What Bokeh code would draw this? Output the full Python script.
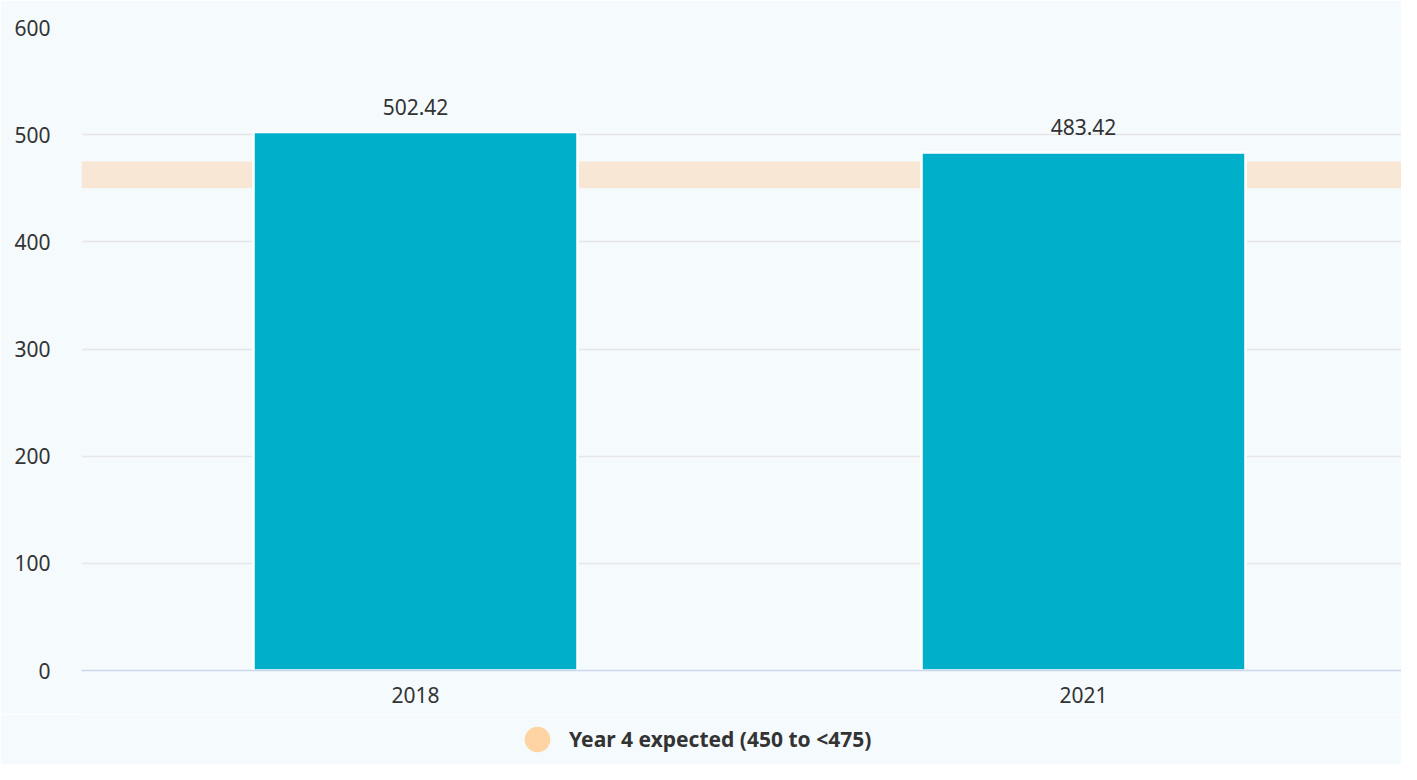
from bokeh.plotting import figure
from bokeh.layouts import column
from bokeh.models import (Range1d, FixedTicker, BoxAnnotation, Legend, LegendItem,
                          ColumnDataSource)
from bokeh.core.properties import value
from bokeh.embed import file_html
from bokeh.resources import INLINE

# ---- data ----
categories = ["2018", "2021"]
scores = [502.42, 483.42]
score_labels = ["502.42", "483.42"]
band_low = 450
band_high = 475
band_label = "Year 4 expected (450 to <475)"
y_ticks = [0, 100, 200, 300, 400, 500, 600]

BG = "#f5fafd"
BAR = "#00afca"
BAND = "#f8e7d4"
MARK = "#fdd4a2"
TXT = "#333333"
FONT = "Noto Sans"

positions = list(range(len(categories)))
src = ColumnDataSource(dict(x=positions, y=scores, lab=score_labels))

W = 1401
H_MAIN, H_LEG = 714, 50
left_b, top_b = 81, 27
frame_w = W - left_b
cat_px = 668

p = figure(width=W, height=H_MAIN, output_backend="svg", toolbar_location=None,
           x_range=Range1d(-0.5, -0.5 + frame_w / cat_px), y_range=Range1d(0, 600),
           min_border_left=left_b, min_border_right=0, min_border_top=top_b,
           min_border_bottom=44)
p.background_fill_color = BG
p.border_fill_color = BG
p.outline_line_color = None

band = BoxAnnotation(bottom=band_low, top=band_high, fill_color=BAND, fill_alpha=1,
                     line_color=None, level="underlay")
p.add_layout(band)

p.vbar(x="x", top="y", width=0.485, source=src, fill_color=BAR,
       line_color="white", line_width=2.5)

p.text(x="x", y="y", text="lab", source=src, y_offset=-25,
       text_align="center", text_baseline="middle",
       text_font=value(FONT), text_font_size="21px", text_color=TXT)

# axes
p.yaxis.ticker = FixedTicker(ticks=y_ticks)
p.yaxis.axis_line_color = None
p.yaxis.major_tick_line_color = None
p.yaxis.minor_tick_line_color = None
p.yaxis.major_tick_out = 0
p.yaxis.major_tick_in = 0
p.yaxis.major_label_standoff = 31
p.yaxis.major_label_text_font = FONT
p.yaxis.major_label_text_font_size = "21px"
p.yaxis.major_label_text_color = TXT

p.xaxis.ticker = FixedTicker(ticks=positions)
p.xaxis.major_label_overrides = {i: c for i, c in zip(positions, categories)}
p.xaxis.axis_line_color = "#ccd6eb"
p.xaxis.axis_line_width = 1.5
p.xaxis.major_tick_line_color = None
p.xaxis.minor_tick_line_color = None
p.xaxis.major_tick_out = 0
p.xaxis.major_tick_in = 0
p.xaxis.major_label_standoff = 16
p.xaxis.major_label_text_font = FONT
p.xaxis.major_label_text_font_size = "21px"
p.xaxis.major_label_text_color = TXT

p.xgrid.grid_line_color = None
p.ygrid.ticker = FixedTicker(ticks=y_ticks)
p.ygrid.grid_line_color = "#e6e6e6"
p.ygrid.grid_line_width = 1.5

# ---- legend strip ----
lg = figure(width=W, height=H_LEG, output_backend="svg", toolbar_location=None,
            x_axis_location=None, y_axis_location=None, min_border=0,
            x_range=Range1d(0, 1), y_range=Range1d(0, 1))
lg.background_fill_color = BG
lg.border_fill_color = BG
lg.outline_line_color = None
lg.xgrid.visible = False
lg.ygrid.visible = False

# the band's marker only serves the legend; its point lies outside this strip's ranges
band_src = ColumnDataSource(dict(lo=[band_low], hi=[band_high]))
mark = lg.scatter(x="lo", y="hi", source=band_src,
                  marker="circle", fill_color=MARK, line_color=None)

legend = Legend(items=[LegendItem(label=band_label, renderers=[mark])],
                location=(424, -7), orientation="horizontal",
                glyph_width=64, glyph_height=64, label_standoff=0,
                padding=0, margin=0, spacing=0,
                background_fill_alpha=0, border_line_color=None,
                label_text_font=FONT, label_text_font_size="21px",
                label_text_font_style="bold", label_text_color=TXT)
lg.add_layout(legend)

layout = column(p, lg, spacing=0)
open("out.html", "w").write(file_html(layout, INLINE))
